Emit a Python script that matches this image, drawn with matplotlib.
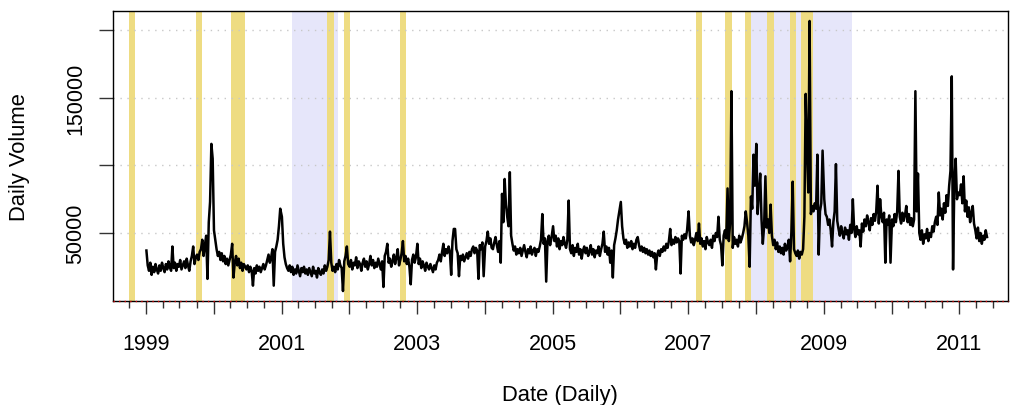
import matplotlib
matplotlib.use("Agg")
import matplotlib.pyplot as plt
import matplotlib.dates as mdates
from matplotlib.ticker import FuncFormatter, FixedLocator
import pandas as pd

# weekly volume readings, thousands, one list per calendar year
vol_1999 = [37, 26, 22, 28, 19, 25, 21, 27, 23, 20,
            26, 22, 28, 24, 21, 27, 23, 29, 25, 22,
            40, 24, 28, 22, 27, 25, 30, 23, 26, 29,
            24, 31, 26, 22, 29, 33, 40, 27, 32, 34,
            30, 36, 38, 45, 33, 41, 48, 16, 58, 73,
            116, 105]
vol_2000 = [52, 45, 38, 33, 36, 30, 35, 29, 33, 27,
            31, 26, 30, 34, 42, 17, 28, 33, 26, 31,
            24, 28, 22, 27, 25, 23, 26, 21, 25, 22,
            11, 24, 20, 26, 22, 25, 21, 24, 27, 23,
            26, 30, 34, 28, 32, 38, 11, 36, 40, 45,
            55, 68]
vol_2001 = [62, 42, 32, 27, 24, 22, 26, 21, 25, 19,
            23, 20, 26, 22, 18, 24, 21, 25, 20, 23,
            19, 24, 21, 18, 25, 20, 22, 17, 24, 21,
            19, 23, 20, 26, 22, 25, 30, 51, 28, 22,
            25, 21, 27, 23, 30, 26, 24, 7, 29, 33,
            40, 27]
vol_2002 = [25, 30, 23, 28, 26, 32, 24, 29, 27, 22,
            28, 31, 25, 29, 23, 27, 33, 26, 30, 24,
            28, 25, 31, 27, 23, 29, 10, 33, 36, 42,
            28, 31, 25, 29, 34, 27, 32, 38, 26, 30,
            35, 44, 29, 33, 27, 31, 25, 12, 30, 34,
            28, 32]
vol_2003 = [42, 27, 31, 24, 29, 26, 22, 28, 25, 23,
            27, 24, 21, 26, 23, 28, 30, 34, 29, 36,
            42, 33, 38, 35, 40, 36, 19, 44, 53, 53,
            38, 35, 18, 33, 30, 34, 29, 32, 35, 31,
            36, 33, 38, 40, 35, 39, 37, 16, 41, 38,
            43, 18]
vol_2004 = [40, 44, 51, 42, 46, 39, 38, 43, 47, 41,
            36, 44, 28, 79, 58, 90, 71, 62, 55, 95,
            48, 42, 37, 40, 34, 38, 35, 39, 33, 37,
            41, 36, 32, 38, 35, 40, 34, 37, 39, 33,
            38, 36, 40, 45, 64, 42, 46, 14, 44, 48,
            41, 46]
vol_2005 = [55, 44, 48, 40, 46, 38, 44, 41, 47, 42,
            39, 45, 74, 38, 35, 41, 33, 39, 36, 42,
            34, 38, 31, 37, 40, 35, 39, 33, 36, 41,
            34, 38, 32, 37, 35, 40, 33, 38, 42, 51,
            36, 40, 34, 39, 28, 37, 17, 41, 46, 52,
            60, 66]
vol_2006 = [73, 55, 46, 42, 45, 39, 43, 40, 44, 38,
            42, 39, 45, 47, 41, 37, 40, 36, 39, 35,
            38, 34, 37, 33, 36, 32, 35, 23, 34, 37,
            33, 38, 36, 40, 37, 42, 39, 44, 53, 41,
            45, 42, 47, 43, 46, 44, 20, 48, 45, 49,
            46, 52]
vol_2007 = [66, 48, 43, 46, 41, 45, 50, 44, 57, 42,
            46, 40, 44, 38, 47, 43, 41, 45, 39, 48,
            44, 50, 47, 62, 45, 41, 26, 48, 52, 46,
            83, 44, 58, 155, 39, 47, 42, 45, 40, 48,
            43, 46, 50, 55, 66, 58, 48, 25, 77, 68,
            108, 85]
vol_2008 = [116, 64, 80, 94, 60, 42, 55, 92, 54, 60,
            50, 71, 48, 41, 45, 38, 43, 36, 40, 35,
            39, 34, 42, 37, 40, 45, 29, 51, 88, 38,
            35, 33, 37, 31, 36, 34, 38, 62, 153, 113,
            80, 207, 64, 70, 66, 72, 68, 108, 34, 66,
            72, 111]
vol_2009 = [75, 64, 62, 56, 60, 52, 40, 58, 66, 101,
            59, 53, 48, 55, 50, 46, 54, 49, 52, 45,
            56, 50, 75, 53, 47, 55, 49, 52, 40, 57,
            51, 60, 55, 63, 58, 52, 61, 56, 64, 59,
            66, 85, 57, 75, 62, 58, 65, 28, 60, 56,
            63, 28]
vol_2010 = [60, 55, 64, 58, 66, 96, 62, 57, 65, 59,
            63, 70, 58, 64, 56, 61, 55, 60, 155, 66,
            94, 50, 45, 52, 42, 49, 46, 53, 44, 50,
            47, 55, 51, 58, 62, 56, 80, 63, 68, 60,
            72, 65, 78, 70, 85, 96, 166, 23, 88, 105,
            75, 80]
vol_2011 = [78, 86, 72, 92, 66, 74, 62, 69, 58, 65,
            70, 57, 52, 46, 54, 44, 50, 42, 48, 45,
            52, 47]

volume_by_year = {1999: vol_1999, 2000: vol_2000, 2001: vol_2001, 2002: vol_2002,
                  2003: vol_2003, 2004: vol_2004, 2005: vol_2005, 2006: vol_2006,
                  2007: vol_2007, 2008: vol_2008, 2009: vol_2009, 2010: vol_2010,
                  2011: vol_2011}

# NBER recessions
recession_start = ["2001-03-01", "2007-12-01"]
recession_end = ["2001-11-01", "2009-06-01"]

# market events
event_start = ["1998-10-01", "1999-09-27", "2000-04-05", "2001-09-01", "2001-12-01",
               "2002-10-01", "2007-02-14", "2007-07-20", "2007-11-03", "2008-03-01",
               "2008-07-01", "2008-09-02"]
event_end = ["1998-11-01", "1999-10-30", "2000-06-20", "2001-10-08", "2002-01-04",
             "2002-11-02", "2007-03-17", "2007-08-25", "2007-12-06", "2008-04-05",
             "2008-08-03", "2008-11-03"]

y_ticks = [50000, 100000, 150000, 200000]
y_labels = ["50000", "", "150000", ""]

plt.rcParams["font.family"] = ["Liberation Sans", "DejaVu Sans"]

dates = []
values = []
for year, vals in volume_by_year.items():
    start = "1999-01-04" if year == 1999 else f"{year}-01-03"
    dates.extend(pd.date_range(start, periods=len(vals), freq="7D"))
    values.extend(v * 1000 for v in vals)

fig = plt.figure(figsize=(10.11, 4.06), dpi=100)
ax = fig.add_axes([113 / 1011, 104.5 / 406, 895 / 1011, 289.5 / 406])

for s, e in zip(recession_start, recession_end):
    ax.axvspan(pd.Timestamp(s), pd.Timestamp(e), color="#E6E6FA", lw=0, zorder=0)
for s, e in zip(event_start, event_end):
    ax.axvspan(pd.Timestamp(s), pd.Timestamp(e), color="#EEDC82", lw=0, zorder=1)

for yv in y_ticks:
    ax.axhline(yv, color="#C8C8C8", ls=(0, (1, 4)), lw=1, zorder=1.5)

ax.plot(dates, values, color="black", lw=1.8, zorder=2)
ax.axhline(0, color="#CC0000", ls=(0, (1, 3)), lw=1, zorder=3, clip_on=False)

ax.set_xlim(pd.Timestamp("1998-07-08"), pd.Timestamp("2011-09-20"))
ax.set_ylim(0, 214400)

ax.xaxis.set_major_locator(mdates.YearLocator())
ax.xaxis.set_minor_locator(mdates.MonthLocator(bymonth=[1, 4, 7, 10]))
ax.xaxis.set_major_formatter(FuncFormatter(
    lambda x, pos: str(mdates.num2date(x).year) if mdates.num2date(x).year % 2 == 1 else ""))

ax.yaxis.set_major_locator(FixedLocator(y_ticks))
ax.set_yticklabels(y_labels)

ax.tick_params(axis="x", which="major", length=9.5, width=1, color="#333333",
               labelsize=15.5, pad=14)
ax.tick_params(axis="x", which="minor", length=4.7, width=1, color="#333333")
ax.tick_params(axis="y", length=10, width=1, color="#333333", labelsize=15.5,
               pad=9.5, labelrotation=90)
for lab in ax.get_yticklabels():
    lab.set_va("center")

for sp in ax.spines.values():
    sp.set_color("black")
    sp.set_linewidth(1)

fig.text(560 / 1011, 1 - 396 / 406, "Date (Daily)", ha="center", va="center", fontsize=15.8)
fig.text(19.5 / 1011, 1 - 157 / 406, "Daily Volume", ha="center", va="center",
         rotation=90, fontsize=15.8)

fig.savefig("out.png", dpi=100)
